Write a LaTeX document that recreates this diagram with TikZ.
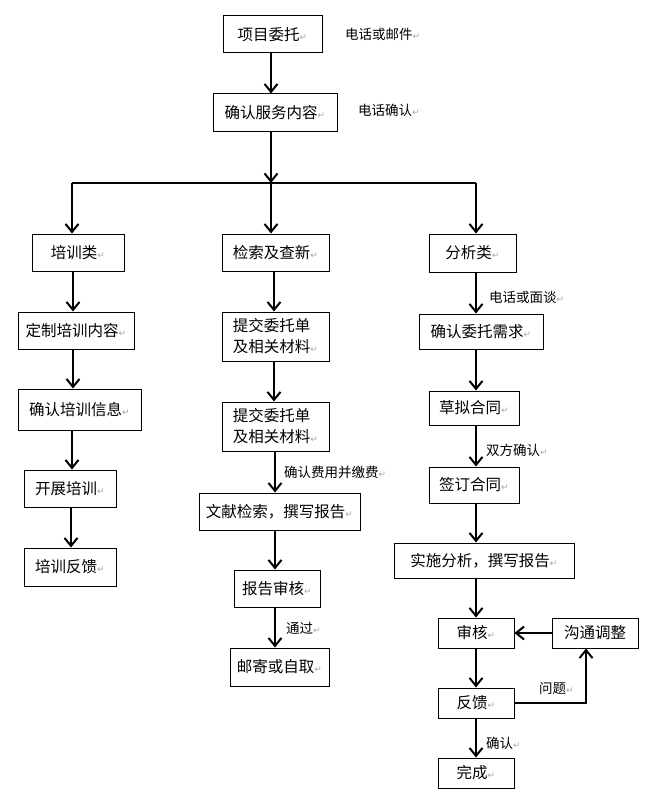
\documentclass[tikz,border=0pt]{standalone}
\usepackage{fontspec}
\setmainfont{Noto Sans CJK SC}
\newfontfamily\symfont{DejaVu Sans}
\usetikzlibrary{arrows.meta}
\newcommand\retmark{{\symfont\color{black!35}\fontsize{9}{9}\selectfont ↵}}
\tikzset{
  box/.style={draw=black, line width=1pt, inner sep=0pt, font=\fontsize{15.5}{21}\selectfont, align=center},
  lbl/.style={anchor=west, inner sep=0pt, font=\fontsize{13.5}{15}\selectfont},
  arr/.style={line width=2pt, -{Straight Barb[length=8pt,width=13pt,line width=2pt]}},
  ln/.style={line width=2pt}
}
\begin{document}
\begin{tikzpicture}[x=1pt,y=-1pt]
\useasboundingbox (0,0) rectangle (646,797);
% top
\node[box, minimum width=99pt, minimum height=37pt] (proj) at (272.5,34.5) {项目委托\retmark};
\node[box, minimum width=124pt, minimum height=37pt] (conf) at (275,112.5) {确认服务内容\retmark};
\node[lbl] (l1) at (345,34) {电话或邮件\retmark};
\node[lbl] (l2) at (358,110) {电话确认\retmark};
% left column
\node[box, minimum width=92pt, minimum height=37pt] (t1) at (78,252.5) {培训类\retmark};
\node[box, minimum width=116pt, minimum height=37pt] (t2) at (76,330.5) {定制培训内容\retmark};
\node[box, minimum width=123pt, minimum height=41pt] (t3) at (79.5,409.5) {确认培训信息\retmark};
\node[box, minimum width=92pt, minimum height=37pt] (t4) at (70,488.5) {开展培训\retmark};
\node[box, minimum width=92pt, minimum height=38pt] (t5) at (70,567) {培训反馈\retmark};
% middle column
\node[box, minimum width=107pt, minimum height=37pt] (s1) at (275.5,252.5) {检索及查新\retmark};
\node[box, minimum width=107pt, minimum height=49pt, align=left] (s2) at (275.5,336.5) {提交委托单\\及相关材料\retmark};
\node[box, minimum width=107pt, minimum height=49pt, align=left] (s3) at (275.5,426.5) {提交委托单\\及相关材料\retmark};
\node[box, minimum width=161pt, minimum height=37pt] (s4) at (279.5,511.5) {文献检索，撰写报告\retmark};
\node[box, minimum width=86pt, minimum height=37pt] (s5) at (277,588.5) {报告审核\retmark};
\node[box, minimum width=99pt, minimum height=38pt] (s6) at (279.5,667) {邮寄或自取\retmark};
\node[lbl] (l3) at (284,472) {确认费用并缴费\retmark};
\node[lbl] (l4) at (286,628) {通过\retmark};
% right column
\node[box, minimum width=87pt, minimum height=38pt] (a1) at (472.5,253) {分析类\retmark};
\node[box, minimum width=124pt, minimum height=35pt] (a2) at (481,331.5) {确认委托需求\retmark};
\node[box, minimum width=90pt, minimum height=34pt] (a3) at (474,408) {草拟合同\retmark};
\node[box, minimum width=90pt, minimum height=36pt] (a4) at (474,485) {签订合同\retmark};
\node[box, minimum width=180pt, minimum height=35pt] (a5) at (484,560.5) {实施分析，撰写报告\retmark};
\node[box, minimum width=76pt, minimum height=30pt] (a6) at (476,633) {审核\retmark};
\node[box, minimum width=86pt, minimum height=30pt] (adj) at (595,633) {沟通调整};
\node[box, minimum width=76pt, minimum height=30pt] (a7) at (476,703) {反馈\retmark};
\node[box, minimum width=76pt, minimum height=30pt] (a8) at (476,773) {完成\retmark};
\node[lbl] (l5) at (489,297) {电话或面谈\retmark};
\node[lbl] (l6) at (486,450) {双方确认\retmark};
\node[lbl] (l7) at (539,688) {问题\retmark};
\node[lbl] (l8) at (486,743) {确认\retmark};
% coordinates
\coordinate (xL) at (73,0);
\coordinate (xR) at (476,0);
\coordinate (jL) at (72,183);
\coordinate (jM) at (271,183);
\coordinate (jR) at (476,183);
\coordinate (corner) at (586,703);
% connectors
\draw[arr] (proj.south -| jM) -- (conf.north -| jM);
\draw[arr] (conf.south -| jM) -- (jM);
\draw[ln] (jL) -- (jR);
\draw[arr] (jL) -- (t1.north -| jL);
\draw[arr] (jM) -- (s1.north -| jM);
\draw[arr] (jR) -- (a1.north -| jR);
% left
\draw[arr] (t1.south -| xL) -- (t2.north -| xL);
\draw[arr] (t2.south -| xL) -- (t3.north -| xL);
\draw[arr] ([xshift=-1pt]t3.south -| xL) -- ([xshift=-1pt]t4.north -| xL);
\draw[arr] ([xshift=-2pt]t4.south -| xL) -- ([xshift=-2pt]t5.north -| xL);
% middle
\draw[arr] (s1.south -| 274,0) -- (s2.north -| 274,0);
\draw[arr] (s2.south -| 274,0) -- (s3.north -| 274,0);
\draw[arr] (s3.south -| 275,0) -- (s4.north -| 275,0);
\draw[arr] (s4.south -| 275,0) -- (s5.north -| 275,0);
\draw[arr] (s5.south -| 275,0) -- (s6.north -| 275,0);
% right
\draw[arr] (a1.south -| xR) -- (a2.north -| xR);
\draw[arr] (a2.south -| xR) -- (a3.north -| xR);
\draw[arr] (a3.south -| xR) -- (a4.north -| xR);
\draw[arr] (a4.south -| xR) -- (a5.north -| xR);
\draw[arr] (a5.south -| xR) -- (a6.north -| xR);
\draw[arr] (a6.south -| xR) -- (a7.north -| xR);
\draw[arr] (a7.south -| xR) -- (a8.north -| xR);
\draw[arr] (adj.west) -- (a6.east);
\draw[arr] (a7.east) -- (corner) -- (adj.south -| corner);
\end{tikzpicture}
\end{document}
